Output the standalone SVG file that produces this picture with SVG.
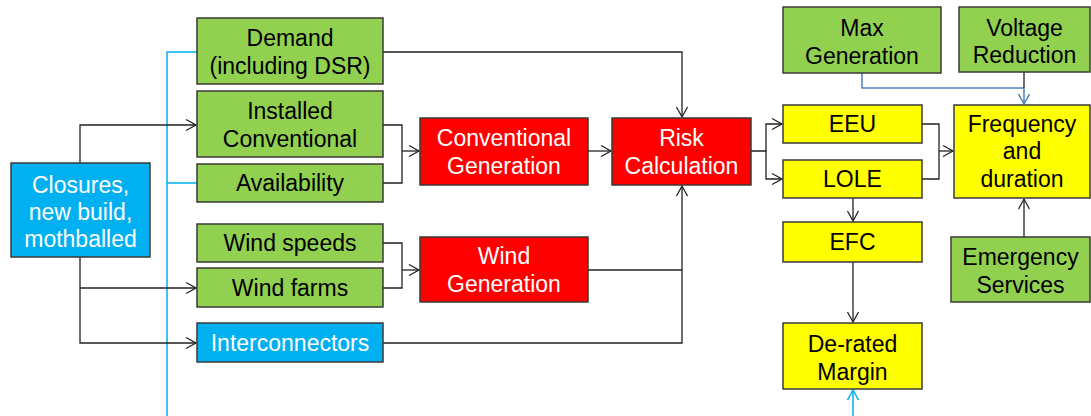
<svg xmlns="http://www.w3.org/2000/svg" width="1091" height="416" viewBox="0 0 1091 416">
<style>
.b{stroke:#3a3a3a;stroke-width:1.5}
.g{fill:#92d050}.r{fill:#ff0000}.y{fill:#ffff00}.c{fill:#00b0f0}
text{font-family:"Liberation Sans",Arial,sans-serif;font-size:23px;text-anchor:middle;fill:#000}
.w{fill:#fff}
.k{fill:none;stroke:#222;stroke-width:1.3}
.bl{fill:none;stroke:#00b0f0;stroke-width:1.5}
.sb{fill:none;stroke:#4f81bd;stroke-width:1.5}
</style>
<defs>
<marker id="a" markerUnits="userSpaceOnUse" markerWidth="14" markerHeight="14" refX="11" refY="7" orient="auto"><path d="M1,1.5 L11,7 L1,12.5" fill="none" stroke="#222" stroke-width="1.3"/></marker>
<marker id="ab" markerUnits="userSpaceOnUse" markerWidth="14" markerHeight="14" refX="11" refY="7" orient="auto"><path d="M1,1.5 L11,7 L1,12.5" fill="none" stroke="#00b0f0" stroke-width="1.5"/></marker>
<marker id="as" markerUnits="userSpaceOnUse" markerWidth="14" markerHeight="14" refX="11" refY="7" orient="auto"><path d="M1,1.5 L11,7 L1,12.5" fill="none" stroke="#4f81bd" stroke-width="1.5"/></marker>
</defs>
<g id="connectors">
<path class="bl" d="M167,416 V52 H197 M167,183 H197"/>
<path class="k" d="M80,163 V125 H196" marker-end="url(#a)"/>
<path class="k" d="M80,257 V343 H196" marker-end="url(#a)"/>
<path class="k" d="M80,288 H196" marker-end="url(#a)"/>
<path class="k" d="M383,125 H402 V183 H383"/>
<path class="k" d="M402,151 H419" marker-end="url(#a)"/>
<path class="k" d="M383,243 H402 V288 H383"/>
<path class="k" d="M402,270 H419" marker-end="url(#a)"/>
<path class="k" d="M588,151 H611" marker-end="url(#a)"/>
<path class="k" d="M383,52 H682 V117" marker-end="url(#a)"/>
<path class="k" d="M383,343 H682 V186" marker-end="url(#a)"/>
<path class="k" d="M588,270 H682"/>
<path class="k" d="M751,151 H766 V124 H782" marker-end="url(#a)"/>
<path class="k" d="M766,151 V179 H782" marker-end="url(#a)"/>
<path class="k" d="M922,124 H939 V179 H922"/>
<path class="k" d="M939,151 H953" marker-end="url(#a)"/>
<path class="sb" d="M862,73 V88 H1024 V104" marker-end="url(#as)"/>
<path class="k" d="M1024,72 V88"/>
<path class="k" d="M1024,237 V199" marker-end="url(#a)"/>
<path class="k" d="M853,198 V221" marker-end="url(#a)"/>
<path class="k" d="M853,262 V322" marker-end="url(#a)"/>
<path class="bl" d="M853,416 V390" marker-end="url(#ab)"/>
</g>
<g id="closures"><rect class="b c" x="11" y="163" width="139" height="94"/><text class="w" x="80.5" y="193">Closures,</text><text class="w" x="80.5" y="220">new build,</text><text class="w" x="80.5" y="247">mothballed</text></g>
<g id="demand"><rect class="b g" x="197" y="18" width="186" height="66"/><text x="290" y="46">Demand</text><text x="290" y="74">(including DSR)</text></g>
<g id="installed"><rect class="b g" x="197" y="91" width="186" height="66"/><text x="290" y="119">Installed</text><text x="290" y="147">Conventional</text></g>
<g id="availability"><rect class="b g" x="197" y="164" width="186" height="38"/><text x="290" y="191">Availability</text></g>
<g id="windspeeds"><rect class="b g" x="197" y="224" width="186" height="38"/><text x="290" y="251">Wind speeds</text></g>
<g id="windfarms"><rect class="b g" x="197" y="268" width="186" height="39"/><text x="290" y="296">Wind farms</text></g>
<g id="interconnectors"><rect class="b c" x="197" y="323" width="186" height="39"/><text class="w" x="290" y="351">Interconnectors</text></g>
<g id="convgen"><rect class="b r" x="420" y="118" width="168" height="67"/><text class="w" x="504" y="146">Conventional</text><text class="w" x="504" y="174">Generation</text></g>
<g id="windgen"><rect class="b r" x="420" y="237" width="168" height="65"/><text class="w" x="504" y="264">Wind</text><text class="w" x="504" y="292">Generation</text></g>
<g id="risk"><rect class="b r" x="612" y="118" width="139" height="67"/><text class="w" x="681.5" y="146">Risk</text><text class="w" x="681.5" y="174">Calculation</text></g>
<g id="maxgen"><rect class="b g" x="783" y="7" width="158" height="66"/><text x="862" y="36">Max</text><text x="862" y="64">Generation</text></g>
<g id="voltage"><rect class="b g" x="959" y="7" width="131" height="65"/><text x="1024.5" y="35.5">Voltage</text><text x="1024.5" y="63">Reduction</text></g>
<g id="eeu"><rect class="b y" x="783" y="105" width="139" height="38"/><text x="852.5" y="132">EEU</text></g>
<g id="lole"><rect class="b y" x="783" y="160" width="139" height="38"/><text x="852.5" y="187">LOLE</text></g>
<g id="freq"><rect class="b y" x="954" y="105" width="136" height="93"/><text x="1022" y="132">Frequency</text><text x="1022" y="159">and</text><text x="1022" y="187">duration</text></g>
<g id="efc"><rect class="b y" x="783" y="222" width="139" height="40"/><text x="852.5" y="250">EFC</text></g>
<g id="emergency"><rect class="b g" x="951" y="237" width="139" height="65"/><text x="1020.5" y="265">Emergency</text><text x="1020.5" y="292.5">Services</text></g>
<g id="derated"><rect class="b y" x="783" y="323" width="139" height="66"/><text x="852.5" y="352">De-rated</text><text x="852.5" y="380">Margin</text></g>
</svg>
